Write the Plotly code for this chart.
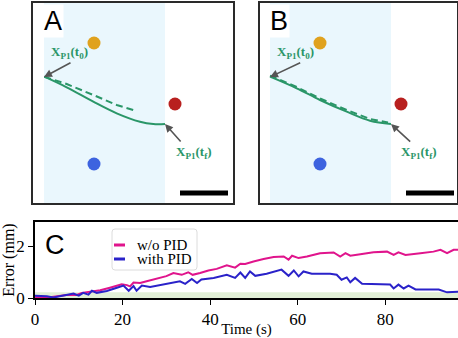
import plotly.graph_objects as go

# ---------------- data ----------------
# Panels A / B (panel coordinates, 0..200 each axis, y up)
dots_u_A = [61, 142, 61]
dots_v_A = [160, 99, 39]
dots_u_B = [60, 141, 60]
dots_v_B = [160, 99, 39]
dot_colors = ["#e0a21e", "#b8201f", "#3d63df"]

solid_u_A = [11.3, 33.7, 60.3, 83.7, 107, 120.3, 132]
solid_v_A = [126.3, 115.7, 101.3, 89.7, 81.3, 79, 79]
dash_u_A = [11.3, 33.7, 60.3, 83.7, 103.7]
dash_v_A = [126.3, 119, 108, 98, 92]

solid_u_B = [10, 36.7, 60, 86.7, 110, 131]
solid_v_B = [126.3, 114.7, 103, 91.3, 82.3, 79]
dash_u_B = [10, 36.7, 60, 86.7, 110, 128]
dash_v_B = [127.3, 116, 104.5, 93, 84, 80.5]

# Panel C
series_names = ["w/o PID", "with PID"]
series_colors = ["#e0148c", "#2a22c9"]
t_wo = [0, 3.4, 7.2, 9.5, 10.7, 12.6, 14.9, 17.1, 19.8, 21, 21.7, 22.5, 24, 25.5, 27.8, 30,
        31.6, 33.5, 35, 36, 37.7, 39.6, 41.5, 43.8, 45.7, 46.9, 48, 49.9, 52.2, 54.5, 56.8,
        57.9, 58.7, 60.2, 62.1, 64.4, 65.1, 68.2, 69.7, 70.9, 72, 74.3, 77.3, 80.4, 81.9,
        83, 84.6, 88, 91, 92.6, 94.1, 95.6, 96.7]
e_wo = [0.03, 0.03, 0.12, 0.12, 0.2, 0.25, 0.3, 0.4, 0.53, 0.5, 0.45, 0.6, 0.58, 0.65, 0.75, 0.85,
        0.97, 0.9, 1.0, 0.9, 0.97, 1.07, 1.13, 1.27, 1.18, 1.33, 1.32, 1.42, 1.51, 1.59, 1.61,
        1.49, 1.64, 1.55, 1.61, 1.7, 1.74, 1.77, 1.61, 1.74, 1.64, 1.7, 1.78, 1.8, 1.67,
        1.77, 1.67, 1.74, 1.8, 1.87, 1.74, 1.87, 1.87]

t_pid = [0, 2.7, 4.2, 6.5, 8.8, 10, 11, 12.2, 13, 14.1, 16.4, 18.7, 20.2, 21.4, 22.5, 23.2,
         24.4, 26.3, 30, 33.1, 34.3, 35.8, 37, 38, 40.8, 43.8, 45.7, 46.9, 48, 49.1, 50.3,
         52.9, 56.3, 57.9, 59.1, 60.2, 61.3, 63.2, 67.4, 68.9, 70, 71.2, 72, 73.1, 74.7,
         78.1, 81.1, 81.9, 83, 84.2, 85.3, 86.9, 89.5, 92.2, 94.1, 96.7]
e_pid = [0.09, 0.07, 0.02, 0.09, 0.17, 0.09, 0.2, 0.13, 0.28, 0.2, 0.27, 0.4, 0.48, 0.28, 0.46, 0.28,
         0.48, 0.43, 0.55, 0.65, 0.55, 0.74, 0.58, 0.72, 0.78, 0.9, 0.78, 0.99, 0.78, 1.03, 0.86,
         0.94, 1.1, 0.86, 1.07, 0.84, 1.03, 0.94, 0.94, 0.9, 0.71, 0.8, 0.61, 0.78, 0.55,
         0.52, 0.52, 0.37, 0.52, 0.37, 0.48, 0.33, 0.33, 0.33, 0.22, 0.24]

band_top = 0.22
x_ticks = [0, 20, 40, 60, 80]
y_ticks = [0, 2]

# ---------------- figure ----------------
W, H = 458, 338
def px(x):
    return x / W
def py(y):
    return 1 - y / H

fig = go.Figure()
GREEN = "#2a9668"
SERIF = "Liberation Serif, Times New Roman, serif"
SANS = "Liberation Sans, Arial, sans-serif"

panels = [
    ("x", "y", "A", dots_u_A, dots_v_A, solid_u_A, solid_v_A, dash_u_A, dash_v_A,
     (11, 132), (147, 195), (39, 141, 11, 126), (149, 60, 132, 79), (36, 151), (161, 51), (20, 182)),
    ("x2", "y2", "B", dots_u_B, dots_v_B, solid_u_B, solid_v_B, dash_u_B, dash_v_B,
     (10, 131), (146, 194), (41.7, 141, 10, 126), (151.7, 60, 131, 79), (35, 151), (159.3, 51), (19, 182)),
]

shapes = []
annotations = []
for (xa, ya, letter, du, dv, su, sv, dsu, dsv, band, bar, ar1, ar2, l1, l2, lp) in panels:
    xref = xa
    yref = ya
    shapes.append(dict(type="rect", xref=xref, yref=yref, x0=band[0], x1=band[1], y0=0, y1=200,
                       fillcolor="#eaf7fd", line_width=0, layer="below"))
    shapes.append(dict(type="line", xref=xref, yref=yref, x0=bar[0], x1=bar[1], y0=10, y1=10,
                       line=dict(color="black", width=5)))
    fig.add_trace(go.Scatter(x=dsu, y=dsv, mode="lines", xaxis=xa, yaxis=ya, showlegend=False,
                             line=dict(color=GREEN, width=2, dash="7px,4px")))
    fig.add_trace(go.Scatter(x=su, y=sv, mode="lines", xaxis=xa, yaxis=ya, showlegend=False,
                             line=dict(color=GREEN, width=2, shape="spline")))
    fig.add_trace(go.Scatter(x=du, y=dv, mode="markers", xaxis=xa, yaxis=ya, showlegend=False,
                             marker=dict(color=dot_colors, size=13, line_width=0)))
    for a in (ar1, ar2):
        annotations.append(dict(x=a[2], y=a[3], ax=a[0], ay=a[1], xref=xref, yref=yref,
                                axref=xref, ayref=yref, showarrow=True, arrowhead=2,
                                arrowsize=1, arrowwidth=1.6, arrowcolor="#555555", text=""))
    annotations.append(dict(x=l1[0], y=l1[1], xref=xref, yref=yref, showarrow=False,
                            xanchor="center", yanchor="middle",
                            text="<b>X<sub>P1</sub>(t<sub>0</sub>)</b>",
                            font=dict(family=SERIF, size=13, color=GREEN)))
    annotations.append(dict(x=l2[0], y=l2[1], xref=xref, yref=yref, showarrow=False,
                            xanchor="center", yanchor="middle",
                            text="<b>X<sub>P1</sub>(t<sub>f</sub>)</b>",
                            font=dict(family=SERIF, size=13, color=GREEN)))
    annotations.append(dict(x=lp[0], y=lp[1], xref=xref, yref=yref, showarrow=False,
                            xanchor="center", yanchor="middle",
                            text=letter, bgcolor="white", borderpad=1,
                            font=dict(family=SANS, size=27, color="black")))

# Panel C
shapes.append(dict(type="rect", xref="x3", yref="y3", x0=0, x1=100, y0=0, y1=band_top,
                   fillcolor="#e1efd6", line_width=0, layer="below"))
for t, e, n, c in ((t_wo, e_wo, series_names[0], series_colors[0]),
                   (t_pid, e_pid, series_names[1], series_colors[1])):
    fig.add_trace(go.Scatter(x=t, y=e, mode="lines", name=n, xaxis="x3", yaxis="y3",
                             showlegend=False, line=dict(color=c, width=2)))
annotations.append(dict(x=px(55), y=py(245), xref="paper", yref="paper", showarrow=False,
                        xanchor="center", yanchor="middle",
                        text="C", font=dict(family=SANS, size=27, color="black")))

# hand-drawn legend box (matplotlib style)
bx0, bx1, by0, by1, r = 112, 197, 229, 270, 3
path = (f"M {px(bx0 + r)},{py(by0)} L {px(bx1 - r)},{py(by0)} Q {px(bx1)},{py(by0)} {px(bx1)},{py(by0 + r)} "
        f"L {px(bx1)},{py(by1 - r)} Q {px(bx1)},{py(by1)} {px(bx1 - r)},{py(by1)} "
        f"L {px(bx0 + r)},{py(by1)} Q {px(bx0)},{py(by1)} {px(bx0)},{py(by1 - r)} "
        f"L {px(bx0)},{py(by0 + r)} Q {px(bx0)},{py(by0)} {px(bx0 + r)},{py(by0)} Z")
shapes.append(dict(type="path", xref="paper", yref="paper", path=path,
                   fillcolor="rgba(255,255,255,0.85)", line=dict(color="#dcdcdc", width=1)))
for i, (n, c) in enumerate(zip(series_names, series_colors)):
    yy = 245 + 14 * i
    shapes.append(dict(type="line", xref="paper", yref="paper", x0=px(114), x1=px(125),
                       y0=py(yy), y1=py(yy), line=dict(color=c, width=3)))
    annotations.append(dict(x=px(135), y=py(yy - 0.5), xref="paper", yref="paper", showarrow=False,
                            xanchor="left", yanchor="middle", text=n,
                            font=dict(family=SERIF, size=15, color="black")))

box_axis = dict(showline=True, mirror=True, linecolor="#2a2a2a", linewidth=1.5, showgrid=False,
                zeroline=False, showticklabels=False, ticks="", fixedrange=True)

fig.update_layout(
    width=W, height=H, margin=dict(l=0, r=0, t=0, b=0),
    paper_bgcolor="white", plot_bgcolor="white", showlegend=False,
    shapes=shapes, annotations=annotations,
    xaxis=dict(domain=[px(33), px(233)], range=[0, 200], anchor="y", **box_axis),
    yaxis=dict(domain=[py(203), py(3)], range=[0, 200], anchor="x", **box_axis),
    xaxis2=dict(domain=[px(260), px(457)], range=[0, 197], anchor="y2", **box_axis),
    yaxis2=dict(domain=[py(203), py(3)], range=[0, 200], anchor="x2", **box_axis),
    xaxis3=dict(domain=[px(35), 1.0], range=[0, 96.6], anchor="y3", showline=True, mirror=True,
                linecolor="black", linewidth=1.5, showgrid=False, zeroline=False,
                tickvals=x_ticks, ticks="outside", ticklen=5, tickcolor="black",
                tickfont=dict(family=SERIF, size=17, color="black"), automargin=False,
                title=dict(text="Time (s)", font=dict(family=SERIF, size=15, color="black"),
                           standoff=0)),
    yaxis3=dict(domain=[py(298), py(222)], range=[0, 2.95], anchor="x3", showline=True,
                mirror=True, linecolor="black", linewidth=1.5, showgrid=False, zeroline=False,
                tickvals=y_ticks, ticks="outside", ticklen=5, tickcolor="black",
                tickfont=dict(family=SERIF, size=17, color="black"), automargin=False,
                title=dict(text="Error (mm)", font=dict(family=SERIF, size=16, color="black"),
                           standoff=2)),
)

fig.write_html("out.html", config={"displayModeBar": False},
               post_script="document.body.style.margin='0';document.body.style.padding='0';")
